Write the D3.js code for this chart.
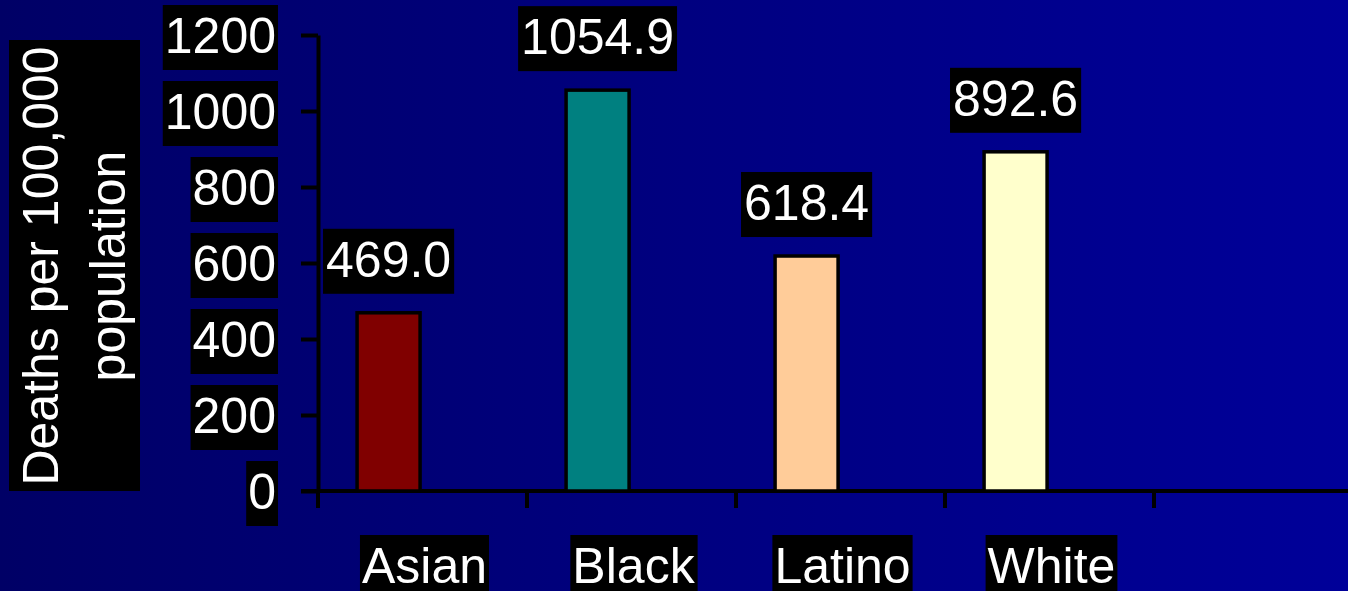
<!DOCTYPE html>
<html>
<head>
<meta charset="utf-8">
<script src="https://cdn.jsdelivr.net/npm/d3@7"></script>
<style>
  html, body { margin: 0; padding: 0; background: #000066; }
  svg { display: block; }
  text { font-family: "Liberation Sans", Arial, sans-serif; fill: #ffffff; }
</style>
</head>
<body>
<svg id="chart" width="1348" height="591"></svg>
<script>
// Age-adjusted death rates by group
const categories = ["Asian", "Black", "Latino", "White"];
const rates = [469.0, 1054.9, 618.4, 892.6];
const barColors = ["#800000", "#008080", "#FFCC99", "#FFFFCC"];
const yTicks = [0, 200, 400, 600, 800, 1000, 1200];
const yTitle = ["Deaths per 100,000", "population"];

const W = 1348, H = 591;
const svg = d3.select("#chart");

// horizontal navy gradient background
const defs = svg.append("defs");
const grad = defs.append("linearGradient").attr("id", "bg")
  .attr("x1", "0%").attr("x2", "100%").attr("y1", "0%").attr("y2", "0%");
grad.append("stop").attr("offset", "0%").attr("stop-color", "#000066");
grad.append("stop").attr("offset", "100%").attr("stop-color", "#000099");
svg.append("rect").attr("width", W).attr("height", H).attr("fill", "url(#bg)");

const x0 = 318, bandW = 209;
const x = d3.scaleBand().domain(categories).range([x0, x0 + bandW * categories.length]).padding(0);
const y = d3.scaleLinear().domain([0, 1200]).range([491, 35]);

const FS = 50;
const AXIS_W = 4;

// draws a black box behind a text element
function boxBehind(textSel, padX) {
  textSel.each(function () {
    const b = this.getBBox();
    const base = +d3.select(this).attr("y") || 0;
    d3.select(this.parentNode).insert("rect", () => this)
      .attr("x", b.x - padX).attr("width", b.width + 2 * padX)
      .attr("y", base - 48).attr("height", 65)
      .attr("fill", "#000000");
  });
}

// y axis
const yAxis = svg.append("g").attr("transform", `translate(${x0},0)`)
  .call(d3.axisLeft(y).tickValues(yTicks).tickSize(17).tickSizeOuter(0).tickFormat(""));
yAxis.selectAll("path, line").attr("stroke", "#000").attr("stroke-width", AXIS_W);

const yLab = svg.append("g");
yTicks.forEach(v => {
  const g = yLab.append("g");
  const t = g.append("text").attr("x", 276).attr("y", y(v) + 18)
    .attr("text-anchor", "end").attr("font-size", FS).text(String(v));
  boxBehind(t, 2);
});

// x axis line and band boundary ticks
svg.append("line").attr("x1", x0 - 17).attr("x2", W).attr("y1", y(0)).attr("y2", y(0))
  .attr("stroke", "#000").attr("stroke-width", AXIS_W);
const bounds = categories.map(c => x(c)).concat([x(categories[categories.length - 1]) + x.bandwidth()]);
svg.selectAll(".xtick").data(bounds).join("line").attr("class", "xtick")
  .attr("x1", d => d).attr("x2", d => d).attr("y1", y(0)).attr("y2", y(0) + 17)
  .attr("stroke", "#000").attr("stroke-width", AXIS_W);

// bars
const barOff = 0.187 * x.bandwidth(), barW = 63;
svg.selectAll(".bar").data(categories).join("rect").attr("class", "bar")
  .attr("x", c => x(c) + barOff)
  .attr("y", (c, i) => y(rates[i]))
  .attr("width", barW)
  .attr("height", (c, i) => y(0) - y(rates[i]))
  .attr("fill", (c, i) => barColors[i])
  .attr("stroke", "#000").attr("stroke-width", 3.5);

// value labels
categories.forEach((c, i) => {
  const g = svg.append("g");
  const t = g.append("text").attr("x", x(c) + barOff + barW / 2).attr("y", y(rates[i]) - 36)
    .attr("text-anchor", "middle").attr("font-size", FS).text(rates[i].toFixed(1));
  boxBehind(t, 3);
});

// category labels
categories.forEach(c => {
  const g = svg.append("g");
  const t = g.append("text").attr("x", x(c) + x.bandwidth() / 2 + 2).attr("y", 583)
    .attr("text-anchor", "middle").attr("font-size", FS).text(c);
  boxBehind(t, 2);
});

// y axis title, rotated two-line label on a black panel
svg.append("rect").attr("x", 9).attr("y", 40).attr("width", 131).attr("height", 451).attr("fill", "#000");
const cy = 266;
yTitle.forEach((line, i) => {
  const bx = i === 0 ? 58 : 125;
  svg.append("text").attr("transform", `translate(${bx},${cy}) rotate(-90)`)
    .attr("text-anchor", "middle").attr("font-size", FS).text(line);
});
</script>
</body>
</html>
